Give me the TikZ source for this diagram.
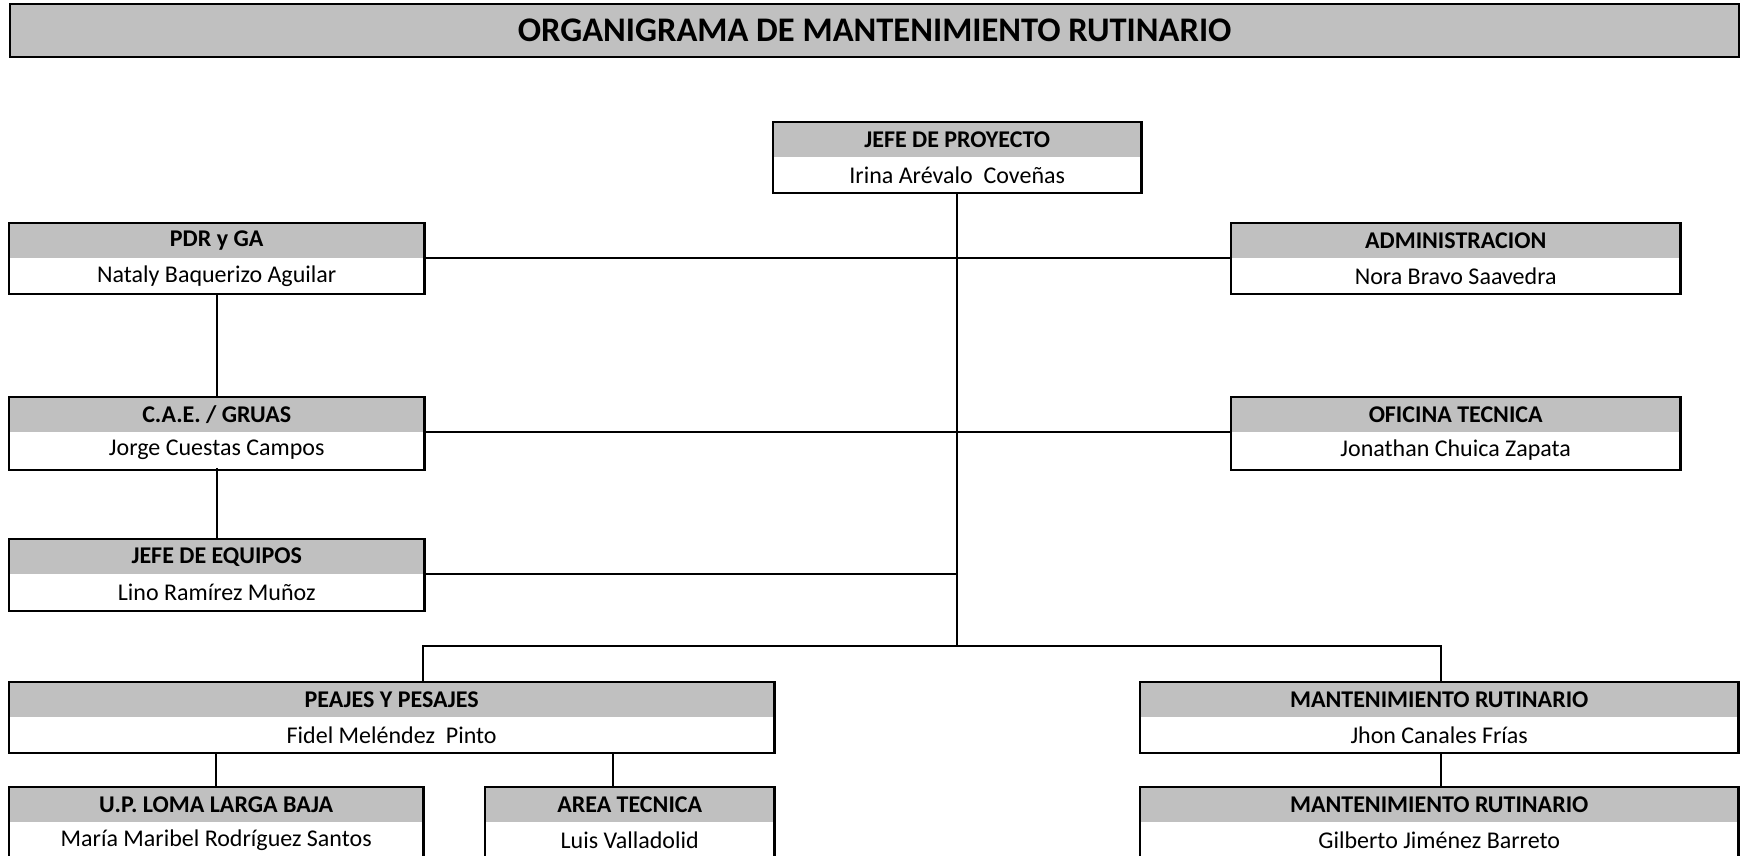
\documentclass[tikz,border=0pt]{standalone}
\usepackage{fontspec}
\setmainfont{Carlito}
\usetikzlibrary{calc}
\definecolor{hdrgray}{RGB}{192,192,192}
\tikzset{
  x=1pt, y=1pt,
  hdr/.style={fill=hdrgray, inner sep=0pt, minimum height=35pt, anchor=north west,
              font=\fontsize{24}{28}\selectfont\bfseries},
  per/.style={fill=white, inner sep=0pt, minimum height=35pt, anchor=north,
              font=\fontsize{24}{28}\selectfont},
  frame/.style={draw=black, line width=2.2pt},
  link/.style={draw=black, line width=2pt},
}
% #1 name, #2 left x, #3 top y, #4 width, #5 header, #6 person, #7 extra frame depth
\newcommand\orgbox[7]{%
  \node[hdr, minimum width=#4pt] (#1H) at (#2,-#3) {#5};
  \node[per, minimum width=#4pt] (#1) at (#1H.south) {#6};
  \draw[frame] (#1H.north west) rectangle ($(#1.south east)+(0,-#7)$);
}
\begin{document}
\begin{tikzpicture}
\useasboundingbox (0,0) rectangle (1746,-856);
\fill[white] (0,0) rectangle (1746,-856);
\clip (0,0) rectangle (1746,-856);

% title
\node[draw=black, line width=2.2pt, fill=hdrgray, inner sep=0pt, minimum width=1729pt,
      minimum height=53pt, anchor=north west, font=\fontsize{34.5}{40}\selectfont\bfseries]
      (title) at (9,-3) {ORGANIGRAMA DE MANTENIMIENTO RUTINARIO};

% boxes
\orgbox{jefe}{773}{122}{368}{JEFE DE PROYECTO}{Irina Arévalo\ \ Coveñas}{0}
\orgbox{pdr}{9}{223}{415}{PDR y GA}{Nataly Baquerizo Aguilar}{0}
\orgbox{cae}{9}{397}{415}{C.A.E. / GRUAS}{Jorge Cuestas Campos}{2}
\orgbox{equ}{9}{539}{415}{JEFE DE EQUIPOS}{Lino Ramírez Muñoz}{1}
\orgbox{adm}{1231}{223}{449}{ADMINISTRACION}{Nora Bravo Saavedra}{0}
\orgbox{ofi}{1231}{397}{449}{OFICINA TECNICA}{Jonathan Chuica Zapata}{2}
\orgbox{pea}{9}{682}{765}{PEAJES Y PESAJES}{Fidel Meléndez\ \ Pinto}{0}
\orgbox{mr}{1140}{682}{598}{MANTENIMIENTO RUTINARIO}{Jhon Canales Frías}{0}
\orgbox{up}{9}{787}{414}{U.P. LOMA LARGA BAJA}{María Maribel Rodríguez Santos}{40}
\orgbox{are}{485}{787}{289}{AREA TECNICA}{Luis Valladolid}{40}
\orgbox{mrb}{1140}{787}{598}{MANTENIMIENTO RUTINARIO}{Gilberto Jiménez Barreto}{40}

% helper coordinates
\coordinate (bus) at (0,-646);
\coordinate (ltap) at (423,0);
\coordinate (rtap) at (1441,0);
\coordinate (atap) at (613,0);

% connectors
\draw[link] (jefe.south) -- (jefe.south |- bus);
\draw[link] (pdrH.south east) -- (pdrH.south east -| admH.south west);
\draw[link] (caeH.south east) -- (caeH.south east -| ofiH.south west);
\draw[link] (equH.south east) -- (equH.south east -| jefe.south);
\draw[link] (pdr.south) -- (caeH.north);
\draw[link] (cae.south) -- (equH.north);
\draw[link] (peaH.north -| ltap) |- (bus -| rtap) -- (mrH.north -| rtap);
\draw[link] (pea.south -| upH.north) -- (upH.north);
\draw[link] (pea.south -| atap) -- (areH.north -| atap);
\draw[link] (mr.south -| rtap) -- (mrbH.north -| rtap);
\end{tikzpicture}
\end{document}
